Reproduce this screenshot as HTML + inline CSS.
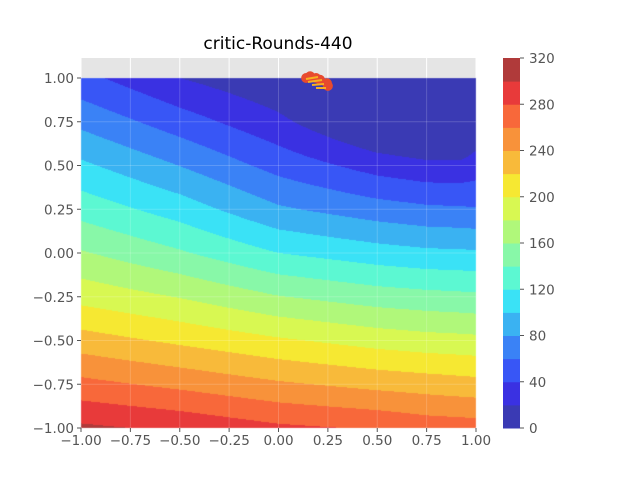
<!DOCTYPE html>
<html><head><meta charset="utf-8"><style>
html,body{margin:0;padding:0;background:#fff;}
#wrap{position:relative;width:640px;height:480px;overflow:hidden;font-family:"DejaVu Sans","Liberation Sans",sans-serif;}
canvas,svg{position:absolute;left:0;top:0;}
</style></head><body>
<div id="wrap">
<svg id="bg" width="640" height="480"></svg>
<canvas id="cv" width="640" height="480"></canvas>
<svg id="fg" width="640" height="480"></svg>
</div>
<script>
// ---- data ----
const xs = [-1, -0.5, 0, 0.5, 0.75, 0.92, 1];
const ys = [1, 0.75, 0.5, 0.25, 0, -0.25, -0.5, -0.75, -1];
const zRow0 = [46, 20, 2, -30, -35, -35, -20];
const zRow1 = [74.7, 49.5, 25, -8, -15, -15, 3.5];
const zRow2 = [104, 79.6, 52.6, 31.4, 25, 24.6, 29];
const zRow3 = [132, 110.7, 83, 69, 64, 62.6, 61.7];
const zRow4 = [162, 142.6, 120, 108.8, 104.5, 103.6, 102.7];
const zRow5 = [193, 179, 161, 150, 146.7, 145, 144];
const zRow6 = [229, 216, 203, 192, 188, 186.5, 185.5];
const zRow7 = [266, 255, 243, 234, 230.5, 228, 227];
const zRow8 = [304, 296, 284, 278, 272, 270.5, 269.5];
const levels = [0,20,40,60,80,100,120,140,160,180,200,220,240,260,280,300,320];
const bandColors = ["#3a3ab4","#3a31e2","#3856f6","#3a82f6","#3ab2f2","#3ae2f6","#5cf8d2","#88f8a8","#b0f87a","#d8f852","#f6e832","#f8ba3a","#f8923a","#f8683a","#e83a3a","#b03a3a"];
const xTicks = [-1,-0.75,-0.5,-0.25,0,0.25,0.5,0.75,1];
const xTickLabels = ["−1.00","−0.75","−0.50","−0.25","0.00","0.25","0.50","0.75","1.00"];
const yTicks = [1,0.75,0.5,0.25,0,-0.25,-0.5,-0.75,-1];
const yTickLabels = ["1.00","0.75","0.50","0.25","0.00","−0.25","−0.50","−0.75","−1.00"];
const cbTicks = [0,40,80,120,160,200,240,280,320];
const cbTickLabels = ["0","40","80","120","160","200","240","280","320"];
const scatterX = [0.14, 0.21, 0.245, 0.25, 0.16, 0.19];
const scatterY = [1.0, 0.99, 0.97, 0.955, 1.01, 1.0];
const zGrid = [zRow0,zRow1,zRow2,zRow3,zRow4,zRow5,zRow6,zRow7,zRow8];

// ---- axes ----
const L=81,R=476,T=78,B=428,AXTOP=58;
const px = x => L + (x+1)/2*(R-L);
const py = y => T + (1-y)/2*(B-T);
const cbY = v => 428 - v/320*370;
const NS="http://www.w3.org/2000/svg";
function mk(parent, tag, attrs){const e=document.createElementNS(NS,tag);for(const k in attrs)e.setAttribute(k,attrs[k]);parent.appendChild(e);return e;}

const bg=document.getElementById('bg');
const axbg=mk(bg,'rect',{x:L,y:AXTOP,width:R-L,height:B-AXTOP,fill:'#e5e5e5'});


xTicks.forEach(t=>{const g=mk(bg,'line',{x1:px(t),x2:px(t),y1:AXTOP,y2:B,stroke:'#fff','stroke-width':1});

});
[1.1,1].concat(yTicks).forEach(t=>{});

// ---- contour fill ----
function interp(x,y){
  let i=0; while(i<xs.length-2 && x>xs[i+1]) i++;
  let j=0; while(j<ys.length-2 && y<ys[j+1]) j++;
  const tx=(x-xs[i])/(xs[i+1]-xs[i]), ty=(y-ys[j])/(ys[j+1]-ys[j]);
  const a=zGrid[j][i],b=zGrid[j][i+1],c=zGrid[j+1][i],d=zGrid[j+1][i+1];
  return (a*(1-tx)+b*tx)*(1-ty)+(c*(1-tx)+d*tx)*ty;
}
function hex(c){return [parseInt(c.slice(1,3),16),parseInt(c.slice(3,5),16),parseInt(c.slice(5,7),16)];}
const rgb=bandColors.map(hex);
const cv=document.getElementById('cv'),ctx=cv.getContext('2d');
const img=ctx.createImageData(R-L,B-T);
for(let yy=0;yy<B-T;yy++){for(let xx=0;xx<R-L;xx++){
  const x=-1+2*(xx+0.5)/(R-L), y=1-2*(yy+0.5)/(B-T);
  const z=interp(x,y);
  let k=Math.floor(z/20); if(k<0)k=0; if(k>15)k=15;
  const o=(yy*(R-L)+xx)*4; img.data[o]=rgb[k][0];img.data[o+1]=rgb[k][1];img.data[o+2]=rgb[k][2];img.data[o+3]=255;
}}
ctx.putImageData(img,L,T);

// ---- overlay ----
const fg=document.getElementById('fg');
xTicks.forEach(t=>{const g=mk(fg,'line',{x1:px(t),x2:px(t),y1:T,y2:B,stroke:'#fff','stroke-opacity':0.18});

});
yTicks.forEach(t=>{const g=mk(fg,'line',{x1:L,x2:R,y1:py(t),y2:py(t),stroke:'#fff','stroke-opacity':0.18});

});
// scatter blob
scatterX.forEach((sx,i)=>{const c=mk(fg,'circle',{cx:px(sx),cy:py(scatterY[i]),r:5,fill:'#e84a2e'});

});
const hatch=mk(fg,'path',{d:'M306 79 L318 77 M308 82 L322 80 M312 85 L324 84 M316 88 L326 88',stroke:'#f8b020','stroke-width':2,fill:'none'});


// ticks
xTicks.forEach((t,i)=>{const tk=mk(fg,'line',{x1:px(t),x2:px(t),y1:B,y2:B+4,stroke:'#555'});


const tx=mk(fg,'text',{x:px(t),y:B+17,'text-anchor':'middle','font-size':'13.5px',fill:'#555'});tx.textContent=xTickLabels[i];

});
yTicks.forEach((t,i)=>{const tk=mk(fg,'line',{x1:L-4,x2:L,y1:py(t),y2:py(t),stroke:'#555'});


const tx=mk(fg,'text',{x:L-7,y:py(t)+5,'text-anchor':'end','font-size':'13.5px',fill:'#555'});tx.textContent=yTickLabels[i];

});
// title
const title=mk(fg,'text',{x:278,y:49,'text-anchor':'middle','font-size':'17px',fill:'#000'});title.textContent='critic-Rounds-440';


// colorbar
bandColors.forEach((c,k)=>{const r=mk(fg,'rect',{x:503,y:cbY(levels[k+1]),width:17,height:cbY(levels[k])-cbY(levels[k+1])+0.5,fill:c});

});
cbTicks.forEach((v,i)=>{const tk=mk(fg,'line',{x1:520,x2:524,y1:cbY(v),y2:cbY(v),stroke:'#555'});


const tx=mk(fg,'text',{x:529,y:cbY(v)+5,'font-size':'13.5px',fill:'#555'});tx.textContent=cbTickLabels[i];

});
</script>
</body></html>
